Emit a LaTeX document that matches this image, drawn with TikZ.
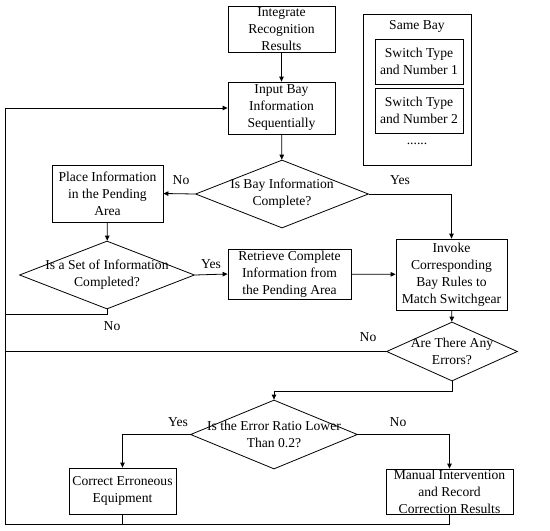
\documentclass[tikz,border=0pt]{standalone}
\usepackage{fontspec}
\setmainfont{Liberation Serif}
\usetikzlibrary{arrows.meta,shapes.geometric}
\tikzset{
  txt/.style={font=\fontsize{13.6}{17}\selectfont,align=center},
  blk/.style={txt,draw,line width=0.8pt,inner sep=0pt},
  dia/.style={txt,draw,line width=0.8pt,shape=diamond,inner xsep=-70pt,inner ysep=-25pt},
  ln/.style={line width=0.8pt},
  ar/.style={ln,-{Triangle[length=5pt,width=4.5pt]}}
}

\begin{document}
\begin{tikzpicture}[x=1pt,y=-1pt]
\useasboundingbox (0,0) rectangle (550,531);
% boxes
\node[blk,minimum width=107,minimum height=46] (integ) at (281.5,29) {Integrate\\Recognition\\Results};
\node[blk,minimum width=107,minimum height=52] (input) at (281.5,108) {Input Bay\\Information\\Sequentially};
\node[blk,minimum width=111,minimum height=57] (place) at (107.5,193.5) {Place Information\\in the Pending\\Area};
\node[blk,minimum width=123,minimum height=50] (retr) at (289.5,274) {Retrieve Complete\\Information from\\the Pending Area};
\node[blk,minimum width=111,minimum height=71] (invoke) at (451.5,274.5) {Invoke\\Corresponding\\Bay Rules to\\Match Switchgear};
\node[blk,minimum width=107,minimum height=46] (correct) at (122.5,491) {Correct Erroneous\\Equipment};
\node[blk,minimum width=127,minimum height=45] (manual) at (449.5,491.5) {Manual Intervention\\and Record\\Correction Results};
% decisions
\node[dia,minimum width=173,minimum height=68] (d1) at (282,194) {Is Bay Information\\Complete?};
\node[dia,minimum width=175,minimum height=68] (d2) at (107,275) {Is a Set of Information\\Completed?};
\node[dia,minimum width=131,minimum height=59] (d3) at (452,351.5) {Are There Any\\Errors?};
\node[dia,minimum width=167,minimum height=69] (d4) at (274,434.5) {Is the Error Ratio Lower\\Than 0.2?};
% legend
\node[blk,minimum width=108,minimum height=151] (same) at (417,89.5) {};
\node[txt] (samet) at (417,26) {Same Bay};
\node[blk,minimum width=88,minimum height=45] (sw1) at (419,61.5) {Switch Type\\and Number 1};
\node[blk,minimum width=88,minimum height=45] (sw2) at (419,110.5) {Switch Type\\and Number 2};
\node[txt] (dots) at (417,144) {......};
% flow
\coordinate (lp) at (5,524);
\draw[ar] (integ) -- (input);
\draw[ar] (input) -- (d1);
\draw[ar] (d1.west) -- (place.east); \node[txt] (no1) at (181,180) {No};
\draw[ar] (d1.east) -| (invoke.north); \node[txt] (yes1) at (400,180) {Yes};
\draw[ar] (place) -- (d2);
\draw[ar] (d2.east) -- (retr.west); \node[txt] (yes2) at (211,264) {Yes};
\draw[ar] (retr) -- (invoke);
\draw[ln] (d2.south) -- ++(0,5) coordinate (n2) -- (n2 -| lp); \node[txt] (no2) at (112,326) {No};
\draw[ar] (invoke) -- (d3);
\draw[ln] (d3.west) -- (d3.west -| lp); \node[txt] (no3) at (368,337) {No};
\draw[ar] (d3.south) -- ++(0,10) -| (d4.north);
\draw[ar] (d4.west) -| (correct.north); \node[txt] (yes4) at (178,422) {Yes};
\draw[ar] (d4.east) -| (manual.north); \node[txt] (no4) at (398,422) {No};
\draw[ln] (correct.south) -- (correct.south |- lp);
\draw[ar] (manual.south) -- (manual.south |- lp) -- (lp) -- (lp |- input.west) -- (input.west);
\end{tikzpicture}
\end{document}
